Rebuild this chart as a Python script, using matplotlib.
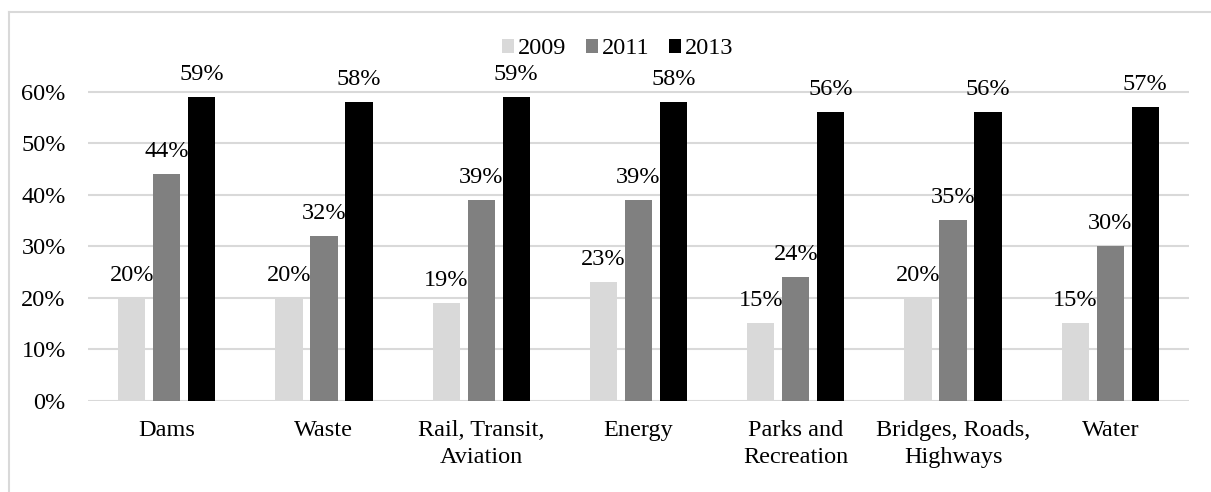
import matplotlib
matplotlib.use("Agg")
import matplotlib.pyplot as plt
import numpy as np
from matplotlib.lines import Line2D
from matplotlib.patches import Patch

categories = ["Dams", "Waste", "Rail, Transit,\nAviation", "Energy",
              "Parks and\nRecreation", "Bridges, Roads,\nHighways", "Water"]
years = ["2009", "2011", "2013"]
values_2009 = [20, 20, 19, 23, 15, 20, 15]
values_2011 = [44, 32, 39, 39, 24, 35, 30]
values_2013 = [59, 58, 59, 58, 56, 56, 57]
yticks = [0, 10, 20, 30, 40, 50, 60]
colors = ["#d9d9d9", "#808080", "#000000"]

plt.rcParams["font.family"] = ["Liberation Serif", "DejaVu Serif"]
FS = 17.5

W, H = 1211, 492
fig = plt.figure(figsize=(W / 100, H / 100), dpi=100)
ax = fig.add_axes([88 / W, 1 - 400.7 / H, (1189 - 88) / W, (400.7 - 40.2) / H])

x = np.arange(len(categories))
step = 0.2225
width = 0.174
series = [values_2009, values_2011, values_2013]
for i, (vals, col, yr) in enumerate(zip(series, colors, years)):
    pos = x + (i - 1) * step
    ax.bar(pos, vals, width=width, color=col, label=yr, zorder=3, edgecolor="none")
    for p, v in zip(pos, vals):
        ax.annotate(f"{v}%", (p, v), xytext=(0, 12), textcoords="offset pixels",
                    ha="center", va="bottom", fontsize=FS, zorder=4)

ax.set_xlim(-0.5, len(categories) - 0.5)
ax.set_ylim(0, 70)
ax.set_yticks(yticks)
ax.set_yticklabels([f"{t}%" for t in yticks], fontsize=FS)
ax.set_xticks(x)
ax.set_xticklabels(categories, fontsize=FS, linespacing=1.35)
ax.tick_params(axis="both", length=0)
ax.tick_params(axis="y", pad=16)
ax.tick_params(axis="x", pad=14)
for s in ax.spines.values():
    s.set_visible(False)
for t in yticks:
    ax.axhline(t, color="#d9d9d9", lw=1.5, zorder=1)

handles = [Patch(facecolor=c, edgecolor="none") for c in colors]
fig.legend(handles, years, loc="center", bbox_to_anchor=(617.5 / W, 1 - 49 / H),
           ncol=3, frameon=False, fontsize=FS, handlelength=0.5, handleheight=0.5,
           handletextpad=0.15, columnspacing=0.8, borderaxespad=0, borderpad=0)

# chart-area border along the top and left edges
fig.add_artist(Line2D([9 / W, 1.0], [1 - 12 / H, 1 - 12 / H], color="#d9d9d9", lw=1.5))
fig.add_artist(Line2D([9 / W, 9 / W], [0.0, 1 - 12 / H], color="#d9d9d9", lw=1.5))

fig.savefig("out.png", dpi=100)
